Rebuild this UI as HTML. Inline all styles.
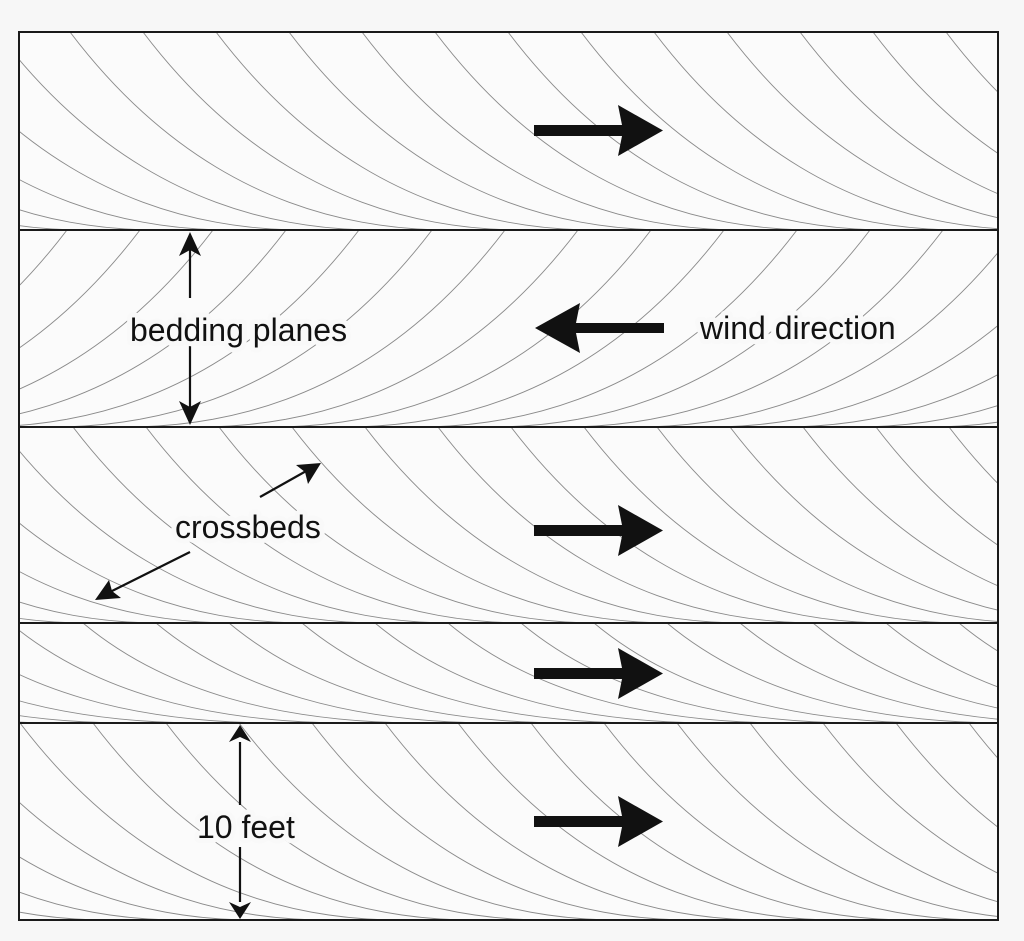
<!DOCTYPE html>
<html><head><meta charset="utf-8"><style>
html,body{margin:0;padding:0;background:#f7f7f7;}
svg{display:block}
text{font-family:"Liberation Sans",sans-serif;font-size:32px;fill:#111;stroke:#f9f9f9;stroke-width:10px;paint-order:stroke;stroke-linejoin:round}
</style></head><body>
<svg width="1024" height="941" viewBox="0 0 1024 941" xmlns="http://www.w3.org/2000/svg">
<defs>
<pattern id="p1" patternUnits="userSpaceOnUse" x="-3" y="32" width="73" height="198">
 <g fill="none" stroke="#8a8a8a" stroke-width="0.9">
 <path d="M0,0 Q150,198 380,198"/><path d="M-73,0 Q77,198 307,198"/><path d="M-146,0 Q4,198 234,198"/><path d="M-219,0 Q-69,198 161,198"/><path d="M-292,0 Q-142,198 88,198"/><path d="M-365,0 Q-215,198 15,198"/></g>
</pattern>
<pattern id="p2" patternUnits="userSpaceOnUse" x="67" y="230" width="73" height="197">
 <g fill="none" stroke="#8a8a8a" stroke-width="0.9">
 <path d="M0,0 Q-150,197 -380,197"/><path d="M73,0 Q-77,197 -307,197"/><path d="M146,0 Q-4,197 -234,197"/><path d="M219,0 Q69,197 -161,197"/><path d="M292,0 Q142,197 -88,197"/><path d="M365,0 Q215,197 -15,197"/><path d="M438,0 Q288,197 58,197"/></g>
</pattern>
<pattern id="p3" patternUnits="userSpaceOnUse" x="0" y="427" width="73" height="196">
 <g fill="none" stroke="#8a8a8a" stroke-width="0.9">
 <path d="M0,0 Q150,196 380,196"/><path d="M-73,0 Q77,196 307,196"/><path d="M-146,0 Q4,196 234,196"/><path d="M-219,0 Q-69,196 161,196"/><path d="M-292,0 Q-142,196 88,196"/><path d="M-365,0 Q-215,196 15,196"/></g>
</pattern>
<pattern id="p4" patternUnits="userSpaceOnUse" x="10" y="623" width="73" height="100">
 <g fill="none" stroke="#8a8a8a" stroke-width="0.9">
 <path d="M0,0 Q120,100 340,100"/><path d="M-73,0 Q47,100 267,100"/><path d="M-146,0 Q-26,100 194,100"/><path d="M-219,0 Q-99,100 121,100"/><path d="M-292,0 Q-172,100 48,100"/></g>
</pattern>
<pattern id="p5" patternUnits="userSpaceOnUse" x="20" y="723" width="73" height="197">
 <g fill="none" stroke="#8a8a8a" stroke-width="0.9">
 <path d="M0,0 Q150,197 380,197"/><path d="M-73,0 Q77,197 307,197"/><path d="M-146,0 Q4,197 234,197"/><path d="M-219,0 Q-69,197 161,197"/><path d="M-292,0 Q-142,197 88,197"/><path d="M-365,0 Q-215,197 15,197"/></g>
</pattern>
</defs>
<rect x="19" y="32" width="979" height="198" fill="#fbfbfb"/>
<rect x="19" y="32" width="979" height="198" fill="url(#p1)"/>
<rect x="19" y="230" width="979" height="197" fill="#fbfbfb"/>
<rect x="19" y="230" width="979" height="197" fill="url(#p2)"/>
<rect x="19" y="427" width="979" height="196" fill="#fbfbfb"/>
<rect x="19" y="427" width="979" height="196" fill="url(#p3)"/>
<rect x="19" y="623" width="979" height="100" fill="#fbfbfb"/>
<rect x="19" y="623" width="979" height="100" fill="url(#p4)"/>
<rect x="19" y="723" width="979" height="197" fill="#fbfbfb"/>
<rect x="19" y="723" width="979" height="197" fill="url(#p5)"/>
<g stroke="#1a1a1a" stroke-width="2" fill="none">
<rect x="19" y="32" width="979" height="888"/>
<line x1="19" y1="230" x2="998" y2="230"/>
<line x1="19" y1="427" x2="998" y2="427"/>
<line x1="19" y1="623" x2="998" y2="623"/>
<line x1="19" y1="723" x2="998" y2="723"/>
</g>
<g fill="#111">
<path d="M534,125 H622 L618,105 L663,130.5 L618,156 L622,136 H534 Z"/>
<path d="M534,525 H622 L618,505 L663,530.5 L618,556 L622,536 H534 Z"/>
<path d="M534,668 H622 L618,648 L663,673.5 L618,699 L622,679 H534 Z"/>
<path d="M534,816 H622 L618,796 L663,821.5 L618,847 L622,827 H534 Z"/>
<path d="M664,323 H576 L580,303 L535,328 L580,353 L576,333 H664 Z"/>
</g>
<g stroke="#111" stroke-width="2.2">
<line x1="190" y1="250" x2="190" y2="298"/>
<line x1="190" y1="343" x2="190" y2="408"/>
<line x1="240" y1="742" x2="240" y2="805"/>
<line x1="240" y1="847" x2="240" y2="902"/>
<line x1="260" y1="497" x2="308" y2="470"/>
<line x1="190" y1="552" x2="108" y2="593"/>
</g>
<g fill="#111">
<path d="M190,232 L179,256 L190,250 L201,256 Z"/>
<path d="M190,425 L179,401 L190,407 L201,401 Z"/>
<path d="M240,725 L229,742 L240,737 L251,742 Z"/>
<path d="M240,919 L229,902 L240,907 L251,902 Z"/>
<path d="M321,463 L296,465 L305,472 L308,484 Z"/>
<path d="M95,600 L109,580 L112,591 L121,598 Z"/>
</g>
<text x="130" y="341">bedding planes</text>
<text x="700" y="339">wind direction</text>
<text x="175" y="538">crossbeds</text>
<text x="197" y="838">10 feet</text>
</svg>
</body></html>
